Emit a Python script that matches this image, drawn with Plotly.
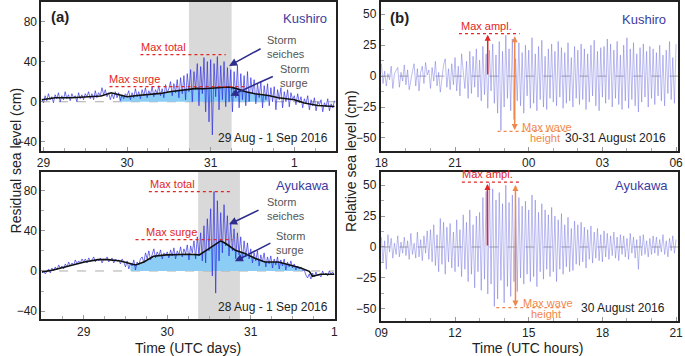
import plotly.graph_objects as go
import numpy as np

W, H = 685, 356

# ---------------- DATA ----------------
# Panel (a) Kushiro: residual sea level (cm), 29 Aug - 1 Sep 2016 (x in "August days", 32 = 1 Sep)
kus_a_t0, kus_a_dt = 28.98, 0.02
kus_total = [3, -1, 6, 1, 8, 2, 5, -1, 7, 3, 9, 0, 6, 2, 10, 3, 7, 1, 8, 4, 6, 0, 9, 3, 7, 2, 8,
             5, 10, 3, 8, 2, 11, 4, 9, 6, 14, 7, 12, 5, 9, 2, 8, 3, 10, 4, 9, 1, 7, 3, 8,
             6, 11, 2, 9, 4, 13, 5, 10, 3, 12, 6, 14, 4, 11, 7, 15, 5, 12, 8, 16, 6, 13, 4, 17, 9,
             13, 20, 6, 18, 9, 22, 4, 24, 8, 26, 2, 28, 10, 32, 0, 30, 12, 38, -4, 35, 8, 44, -10, 40, -20,
             42, -33, 38, 5, 45, -8, 36, 2, 40, -5, 34, 0, 32, -10, 30, 4, 36, -6, 28, 2, 26, -4, 30, 0, 24,
             8, 22, -2, 18, 4, 20, -6, 16, 2, 18, -4, 14, 0, 15, -8, 12, 2, 14, -6, 10, 0, 12, -5, 9, 2,
             6, -3, 8, -1, 5, -6, 3, -2, 6, -8, 2, -4, 4, -9, 0, -3, 2, -10, -1, -5, 3, -9, -2, -6, 1]
kus_surge_t = [28.98, 29.14, 29.34, 29.53, 29.69, 29.81, 29.91, 30.00, 30.12, 30.24, 30.40, 30.51, 30.59,
               30.71, 30.83, 30.91, 31.06, 31.22, 31.30, 31.42, 31.53, 31.69, 31.81, 32.00, 32.12, 32.28, 32.48]
kus_surge = [2, 4, 4, 5, 5.7, 9, 6.7, 5, 6.3, 7, 8.3, 10, 10.7, 12, 13.3, 13, 13.7, 14.7, 13.3, 10, 8,
             6.3, 4, 2, -1.3, -3.7, -4.7]
kus_fill_window = [29.9, 31.75]
kus_storm_band = [30.74, 31.25]
kus_max_total = 47
kus_max_total_span = [30.16, 31.18]
kus_max_surge = 15
kus_max_surge_span = [29.79, 31.42]

# Panel (a) Ayukawa: 28 Aug - 1 Sep 2016
ayu_a_t0, ayu_a_dt = 28.50, 0.02
ayu_total = [-2, 1, -3, 0, 2, -2, 3, 0, 4, 1, 6, 3, 5, 2, 7, 4, 9, 5, 8, 6, 11, 7, 10, 8, 12,
             9, 12, 8, 13, 10, 11, 14, 9, 12, 10, 13, 8, 12, 11, 14, 9, 11, 13, 8, 12, 10, 11, 7, 12, 9,
             4, 10, 2, 8, 5, 11, 1, 9, 6, 12, 14, 8, 18, 12, 20, 11, 17, 22, 13, 19, 15, 21, 12, 18, 16,
             19, 13, 21, 15, 23, 12, 20, 16, 24, 14, 22, 17, 26, 11, 25, 18, 30, 12, 34, 15, 38, 10, 45, 8, 52,
             20, 62, -5, 79, -22, 70, 10, 58, 18, 66, 25, 55, 15, 48, 20, 42, 12, 38, 16, 34, 10, 30, 14, 28, 12,
             22, 8, 18, 10, 20, 5, 16, 9, 18, 4, 14, 7, 15, 3, 12, 6, 14, 2, 11, 5, 12, 1, 9, 4, 10,
             3, 7, 1, 5, 2, 4, 0, 1, -4, -7, -3, -8, -2, -6, -1, -5, -3, -6, 0, -4, -2, -5, 0, -3, -1, -4]
ayu_surge_t = [28.50, 28.62, 28.74, 28.855, 29.01, 29.17, 29.29, 29.44, 29.56, 29.62, 29.72, 29.835, 29.99,
               30.15, 30.27, 30.385, 30.50, 30.60, 30.64, 30.70, 30.815, 30.93, 31.05, 31.17, 31.33, 31.48,
               31.60, 31.70, 31.74, 31.835, 32.0]
ayu_surge = [-1, 0.7, 3.3, 5.7, 9, 11.3, 11.3, 10, 7.3, 6, 9, 14.7, 16, 16.7, 16.7, 16, 22.3, 28, 30, 27.3,
             20.7, 17.3, 12.7, 9, 9, 5.7, 3, -0.3, -5.3, -3.3, -3.3]
ayu_fill_window = [29.5, 31.6]
ayu_storm_band = [30.37, 30.87]
ayu_max_total = 79
ayu_max_total_span = [29.78, 30.76]
ayu_max_surge = 31.3
ayu_max_surge_span = [29.62, 30.78]

# Panel (b) Kushiro: relative sea level (cm), hours from 30 Aug 00:00
kus_b_t0, kus_b_dt = 18.0, 1 / 15
kus_rel = [10, -6, 4, -8, 2, -3, 8, -10, 2, 5, 7, -9, 3, -4, 9,
           -7, 5, -11, -2, 4, 10, -8, 6, -12, 3, 8, -6, 11, 1, 5,
           -10, 7, -4, 12, -8, 3, -13, -3, 9, 14, -9, 6, -11, 10, -7,
           15, -12, 8, -16, 18, 4, -10, 12, -18, 20, -14, 16, -9, 22, -17,
           13, -20, 24, -15, 18, -26, 21, -12, 26, -22, 17, -30, 28, -44, 20,
           -25, 33, -18, 22, -28, 30, -35, 14, -20, 27, -24, 19, -30, 25, -16,
           21, -26, 31, -22, 18, -28, 24, -19, 29, -25, 16, -27, 22, -18, 26,
           -21, 20, -24, 28, -17, 23, -26, 19, -22, 27, -20, 15, -25, 24, -18,
           21, -23, 26, -19, 22, -27, 18, -21, 25, -16, 29, -24, 20, -28, 23,
           -17, 24, -22, 30, -19, 26, -25, 21, -18, 28, -23, 17, -27, 25, -20,
           31, -26, 22, -19, 27, -24, 18, -29, 23, -21, 26, -17, 20, -25, 24,
           -18, 22, -23, 19, -16, 25, -20, 17, -24, 21, -14, 28, -19, 15, -22, 26]
kus_ampl_t, kus_ampl = 22.33, 34.4
kus_ampl_span = [21.16, 23.63]
kus_wave_t, kus_wave_top, kus_wave_bot = 23.43, 34.4, -44.6
kus_wave_span = [22.73, 25.56]

# Panel (b) Ayukawa: hours of 30 Aug
ayu_b_t0, ayu_b_dt = 9.0, 1 / 15
ayu_rel = [8, -12, 5, -18, 10, -4, 7, -9, 3, -6, 9, -8, 4, -5, 8,
           -7, 5, -10, 11, -6, 3, -9, 12, -8, 6, -11, 9, -5, 13, -10,
           14, -12, 18, -15, 10, -20, 23, -14, 20, -22, 16, -12, 19, -17, 12,
           -20, 22, -16, 14, -24, 26, -18, 20, -28, 30, -22, 18, -33, 25, -20,
           28, -35, 40, -26, 45, -38, 52, -30, 47, -48, 38, -42, 44, -27, 35,
           -45, 50, -32, 36, -40, 42, -28, 34, -36, 40, -25, 33, -30, 37, -22,
           30, -28, 42, -24, 38, -32, 28, -20, 35, -26, 30, -18, 26, -24, 32,
           -20, 25, -28, 22, -18, 27, -22, 18, -16, 24, -20, 15, -19, 21, -14,
           18, -15, 20, -12, 16, -17, 14, -10, 17, -13, 12, -9, 15, -11, 10,
           -12, 13, -8, 11, -10, 9, -7, 12, -9, 8, -11, 10, -6, 9, -8,
           7, -10, 11, -5, 8, -9, 6, -18, 9, -7, 10, -6, 5, -8, 7,
           -6, 9, -5, 8, -7, 6, -4, 10, -6, 5, -8, 7, -3, 9, -5, 6]
ayu_ampl_t, ayu_ampl = 13.32, 52.4
ayu_ampl_span = [12.28, 14.71]
ayu_wave_t, ayu_wave_top, ayu_wave_bot = 14.46, 52.4, -49
ayu_wave_span = [13.68, 16.55]

a_ticks = [29, 30, 31, 32]
a_ticktext = ["29", "30", "31", "1"]
b1_ticks = [18, 21, 24, 27, 30]
b1_ticktext = ["18", "21", "00", "03", "06"]
b2_ticks = [9, 12, 15, 18, 21]
b2_ticktext = ["09", "12", "15", "18", "21"]

# ---------------- STYLE ----------------
FONT = "Liberation Sans, Arial, sans-serif"
RED = "rgb(226,38,38)"
ORANGE = "rgb(240,135,75)"
NAVY = "rgb(45,45,140)"
LABEL_BLUE = "rgb(60,60,160)"
NOISE = "rgba(35,35,225,0.8)"
LIGHT = "rgb(140,205,245)"
BVAL = "rgba(100,100,220,0.55)"
GREY = "#555555"


def dx(l, r):
    return [l / W, r / W]


def dy(top, bottom):
    return [1 - bottom / H, 1 - top / H]


def P(xp, yp):
    return xp / W, 1 - yp / H


fig = go.Figure()


def panel_a(xa, ya, t0, dt, total, st, sv, win):
    t = t0 + dt * np.arange(len(total))
    st = np.array(st)
    sv = np.array(sv)
    m = (st >= win[0]) & (st <= win[1])
    fig.add_trace(go.Scatter(x=st[m], y=sv[m], mode="lines", fill="tozeroy", fillcolor=LIGHT,
                             line=dict(width=0, color=LIGHT), xaxis=xa, yaxis=ya, hoverinfo="skip"))
    fig.add_trace(go.Scatter(x=t, y=total, mode="lines", line=dict(width=0.8, color=NOISE),
                             xaxis=xa, yaxis=ya))
    fig.add_trace(go.Scatter(x=st, y=sv, mode="lines", line=dict(width=1.6, color="#111111"),
                             xaxis=xa, yaxis=ya))


panel_a("x", "y", kus_a_t0, kus_a_dt, kus_total, kus_surge_t, kus_surge, kus_fill_window)
panel_a("x2", "y2", ayu_a_t0, ayu_a_dt, ayu_total, ayu_surge_t, ayu_surge, ayu_fill_window)

fig.add_trace(go.Scatter(x=kus_b_t0 + kus_b_dt * np.arange(len(kus_rel)), y=kus_rel, mode="lines",
                         line=dict(width=0.8, color=BVAL), xaxis="x3", yaxis="y3"))
fig.add_trace(go.Scatter(x=ayu_b_t0 + ayu_b_dt * np.arange(len(ayu_rel)), y=ayu_rel, mode="lines",
                         line=dict(width=0.8, color=BVAL), xaxis="x4", yaxis="y4"))

shapes = []
annotations = []


def band(xr, yr, span):
    shapes.append(dict(type="rect", xref=xr, yref=yr + " domain", x0=span[0], x1=span[1], y0=0, y1=1,
                       fillcolor="#d9d9d9", line=dict(width=0), layer="below"))


def zero(xr, yr, rng):
    shapes.append(dict(type="line", xref=xr, yref=yr, x0=rng[0], x1=rng[1], y0=0, y1=0,
                       line=dict(color="#aaaaaa", width=1, dash="dash"), layer="below"))


def hline(xr, yr, span, yv, color):
    shapes.append(dict(type="line", xref=xr, yref=yr, x0=span[0], x1=span[1], y0=yv, y1=yv,
                       line=dict(color=color, width=1.2, dash="dot")))


def txt(xr, yr, x, y, text, color, size=11, xanchor="center", yanchor="middle", align="center"):
    annotations.append(dict(xref=xr, yref=yr, x=x, y=y, text=text, showarrow=False,
                            font=dict(family=FONT, size=size, color=color),
                            xanchor=xanchor, yanchor=yanchor, align=align))


def arrow(xr, yr, x, y, ax, ay, color):
    annotations.append(dict(xref=xr, yref=yr, x=x, y=y, ax=ax, ay=ay, text="", showarrow=True,
                            arrowhead=2, arrowsize=1, arrowwidth=1.6, arrowcolor=color, standoff=0))


# Panel a top
band("x", "y", kus_storm_band)
zero("x", "y", [28.97, 32.5])
hline("x", "y", kus_max_total_span, kus_max_total, RED)
hline("x", "y", kus_max_surge_span, kus_max_surge, RED)
txt("x", "y", 30.44, kus_max_total, "Max total", RED, yanchor="bottom")
txt("x", "y", 30.09, kus_max_surge, "Max surge", RED, yanchor="bottom")
arrow("x", "y", 31.22, 35.7, 33, -18, NAVY)
arrow("x", "y", 31.235, 6, 44, -20, NAVY)
txt("x", "y", 31.65, 54.6, "Storm<br>seiches", GREY, xanchor="left", align="left")
txt("x", "y", 31.81, 25.8, "Storm<br>surge", GREY, xanchor="left", align="left")

# Panel a bottom
band("x2", "y2", ayu_storm_band)
zero("x2", "y2", [28.49, 32.0])
hline("x2", "y2", ayu_max_total_span, ayu_max_total, RED)
hline("x2", "y2", ayu_max_surge_span, ayu_max_surge, RED)
txt("x2", "y2", 30.06, ayu_max_total, "Max total", RED, yanchor="bottom")
txt("x2", "y2", 30.05, ayu_max_surge, "Max surge", RED, yanchor="bottom")
arrow("x2", "y2", 30.74, 46.4, 31, -15, NAVY)
arrow("x2", "y2", 30.81, 9.6, 37, -19, NAVY)
txt("x2", "y2", 31.165, 61.2, "Storm<br>seiches", GREY, xanchor="left", align="left")
txt("x2", "y2", 31.28, 27.5, "Storm<br>surge", GREY, xanchor="left", align="left")

# Panel b top
zero("x3", "y3", [18, 30.1])
hline("x3", "y3", kus_ampl_span, kus_ampl, RED)
hline("x3", "y3", kus_wave_span, kus_wave_bot, ORANGE)
annotations.append(dict(xref="x3", yref="y3", x=kus_ampl_t, y=kus_ampl - 1, axref="x3", ayref="y3",
                        ax=kus_ampl_t, ay=0, text="", showarrow=True, arrowhead=2, arrowsize=0.8,
                        arrowwidth=1.5, arrowcolor=RED, standoff=0))
annotations.append(dict(xref="x3", yref="y3", x=kus_wave_t, y=kus_wave_bot + 1, axref="x3", ayref="y3",
                        ax=kus_wave_t, ay=kus_wave_top - 1, text="", showarrow=True, arrowhead=2,
                        startarrowhead=2, arrowside="end+start", arrowsize=0.8, startarrowsize=0.8,
                        arrowwidth=1.5, arrowcolor=ORANGE, standoff=0, startstandoff=0))
txt("x3", "y3", 22.3, kus_ampl, "Max ampl.", RED, yanchor="bottom")
txt("x3", "y3", 24.74, -40.9, "Max wave", ORANGE)
txt("x3", "y3", 24.66, -50.2, "height", ORANGE)

# Panel b bottom
zero("x4", "y4", [9, 21.1])
hline("x4", "y4", ayu_ampl_span, ayu_ampl, RED)
hline("x4", "y4", ayu_wave_span, ayu_wave_bot, ORANGE)
annotations.append(dict(xref="x4", yref="y4", x=ayu_ampl_t, y=ayu_ampl - 1.5, axref="x4", ayref="y4",
                        ax=ayu_ampl_t, ay=0, text="", showarrow=True, arrowhead=2, arrowsize=0.8,
                        arrowwidth=1.5, arrowcolor=RED, standoff=0))
annotations.append(dict(xref="x4", yref="y4", x=ayu_wave_t, y=ayu_wave_bot + 1, axref="x4", ayref="y4",
                        ax=ayu_wave_t, ay=ayu_wave_top - 1, text="", showarrow=True, arrowhead=2,
                        startarrowhead=2, arrowside="end+start", arrowsize=0.8, startarrowsize=0.8,
                        arrowwidth=1.5, arrowcolor=ORANGE, standoff=0, startstandoff=0))
txt("x4", "y4", 13.32, ayu_ampl, "Max ampl.", RED, yanchor="bottom")
txt("x4", "y4", 15.78, -45.4, "Max wave", ORANGE)
txt("x4", "y4", 15.7, -54.3, "height", ORANGE)


def ptxt(xp, yp, text, size=12, color="#222222", xanchor="center", bold=False, angle=0):
    x, y = P(xp, yp)
    annotations.append(dict(xref="paper", yref="paper", x=x, y=y, text=("<b>%s</b>" % text) if bold else text,
                            showarrow=False, xanchor=xanchor, yanchor="middle", textangle=angle,
                            font=dict(family=FONT, size=size, color=color)))


ptxt(44, 16, "(a)", size=15, xanchor="left", bold=True)
ptxt(388, 17, "(b)", size=15, xanchor="left", bold=True)
ptxt(328, 18, "Kushiro", size=13, color=LABEL_BLUE, xanchor="right")
ptxt(330, 185, "Ayukawa", size=13, color=LABEL_BLUE, xanchor="right")
ptxt(673, 19, "Kushiro", size=13, color=LABEL_BLUE, xanchor="right")
ptxt(675, 185, "Ayukawa", size=13, color=LABEL_BLUE, xanchor="right")
ptxt(329, 137, "29 Aug - 1 Sep 2016", size=12, xanchor="right")
ptxt(329, 307, "28 Aug - 1 Sep 2016", size=12, xanchor="right")
ptxt(673, 137, "30-31 August 2016", size=12, xanchor="right")
ptxt(672, 308, "30 August 2016", size=12, xanchor="right")
ptxt(185, 348, "Time (UTC days)", size=14)
ptxt(531, 348, "Time (UTC hours)", size=14)
ptxt(10, 160, "Residual sea level (cm)", size=14, angle=-90)
ptxt(350, 160, "Relative sea level (cm)", size=14, angle=-90)

fig.update_layout(shapes=shapes, annotations=annotations)

axis_common = dict(showline=True, mirror=True, linewidth=2, linecolor="#222222", showgrid=False,
                   zeroline=False, ticks="inside", ticklen=4, tickcolor="#999999",
                   ticklabeloverflow="allow",
                   tickfont=dict(family=FONT, size=12, color="#222222"))

fig.update_layout(
    width=W, height=H, margin=dict(l=0, r=0, t=0, b=0),
    paper_bgcolor="white", plot_bgcolor="white", showlegend=False,
    xaxis=dict(domain=dx(36, 335), anchor="y", range=[28.976, 32.494], tickvals=a_ticks, ticktext=a_ticktext,
               minor=dict(ticks="inside", ticklen=3, tickcolor="#aaaaaa", dtick=0.25), **axis_common),
    yaxis=dict(domain=dy(1, 150), anchor="x", range=[-48.6, 99.3], tickvals=[-40, 0, 40, 80],
               minor=dict(ticks="inside", ticklen=3, tickcolor="#aaaaaa", dtick=20), **axis_common),
    xaxis2=dict(domain=dx(36, 334), anchor="y2", range=[28.494, 32.004], tickvals=a_ticks, ticktext=a_ticktext,
                minor=dict(ticks="inside", ticklen=3, tickcolor="#aaaaaa", dtick=0.25), **axis_common),
    yaxis2=dict(domain=dy(171, 319), anchor="x2", range=[-47.9, 99.0], tickvals=[-40, 0, 40, 80],
                minor=dict(ticks="inside", ticklen=3, tickcolor="#aaaaaa", dtick=20), **axis_common),
    xaxis3=dict(domain=dx(381, 683), anchor="y3", range=[17.98, 30.08], tickvals=b1_ticks, ticktext=b1_ticktext,
                minor=dict(ticks="inside", ticklen=3, tickcolor="#aaaaaa", dtick=1), **axis_common),
    yaxis3=dict(domain=dy(1, 150), anchor="x3", range=[-60.2, 59.9], tickvals=[-50, -25, 0, 25, 50],
                minor=dict(ticks="inside", ticklen=3, tickcolor="#aaaaaa", dtick=12.5), **axis_common),
    xaxis4=dict(domain=dx(381, 683), anchor="y4", range=[8.98, 21.08], tickvals=b2_ticks, ticktext=b2_ticktext,
                minor=dict(ticks="inside", ticklen=3, tickcolor="#aaaaaa", dtick=1), **axis_common),
    yaxis4=dict(domain=dy(171, 321), anchor="x4", range=[-59.9, 61.0], tickvals=[-50, -25, 0, 25, 50],
                minor=dict(ticks="inside", ticklen=3, tickcolor="#aaaaaa", dtick=12.5), **axis_common),
)

fig.write_html("out.html", config={"displayModeBar": False},
               post_script="document.body.style.margin='0px';document.body.style.overflow='hidden';")
